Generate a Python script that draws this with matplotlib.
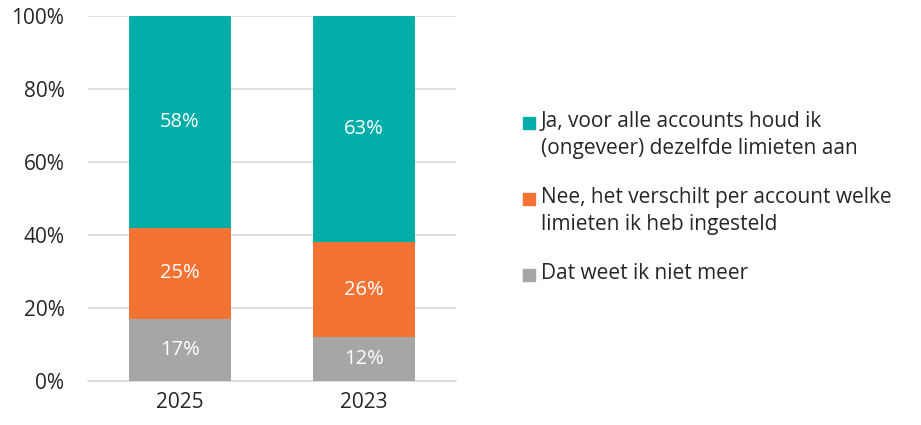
import matplotlib.pyplot as plt
import matplotlib.patches as mpatches
import numpy as np

plt.rcParams['font.family'] = ['Open Sans', 'DejaVu Sans']

years = ['2025', '2023']
weet_niet = [17, 12]
verschilt = [25, 26]
zelfde = [58, 63]
labels = ['Ja, voor alle accounts houd ik\n(ongeveer) dezelfde limieten aan',
          'Nee, het verschilt per account welke\nlimieten ik heb ingesteld',
          'Dat weet ik niet meer']
colors = ['#00ADA9', '#F37335', '#A6A6A6']

fig = plt.figure(figsize=(9.21, 4.25), dpi=100)
ax = fig.add_axes([88/921, 44/425, 368/921, 365/425])

x = np.arange(len(years))
series = [weet_niet, verschilt, zelfde]
series_colors = [colors[2], colors[1], colors[0]]
bottom = np.zeros(len(years))
for vals, c in zip(series, series_colors):
    vals = np.array(vals, dtype=float)
    ax.bar(x, vals, 0.555, bottom=bottom, color=c, zorder=3)
    for xi, b, v in zip(x, bottom, vals):
        top = min(b + v, 100)
        ax.text(xi, (b + top) / 2, f'{int(v)}%',
                ha='center', va='center', color='white', fontsize=14.5, zorder=4)
    bottom += vals

ax.set_xlim(-0.5, 1.5)
ax.set_ylim(0, 100)
ax.set_yticks(range(0, 101, 20))
ax.set_yticklabels([f'{v}%' for v in range(0, 101, 20)])
ax.set_xticks(x)
ax.set_xticklabels(years)
ax.tick_params(length=0, labelsize=15, colors='#262626', pad=8)
ax.tick_params(axis='y', pad=17)
ax.grid(axis='y', color='#D9D9D9', linewidth=1.2, zorder=0)
for s in ['top', 'right', 'left']:
    ax.spines[s].set_visible(False)
ax.spines['bottom'].set_color('#D9D9D9')
ax.spines['bottom'].set_linewidth(1.2)

# legend drawn by hand, square next to first line of each label
first_line_y = [123, 199, 275]
for lab, c, y in zip(labels, colors, first_line_y):
    fig.patches.append(mpatches.Rectangle((523/921, (425 - y - 6) / 425), 12/921, 12/425,
                                          color=c, transform=fig.transFigure, figure=fig))
    fig.text(541/921, 1 - (y - 12)/425, lab, ha='left', va='top', fontsize=15,
             color='#262626', linespacing=1.38)

fig.savefig('out.png', dpi=100)
